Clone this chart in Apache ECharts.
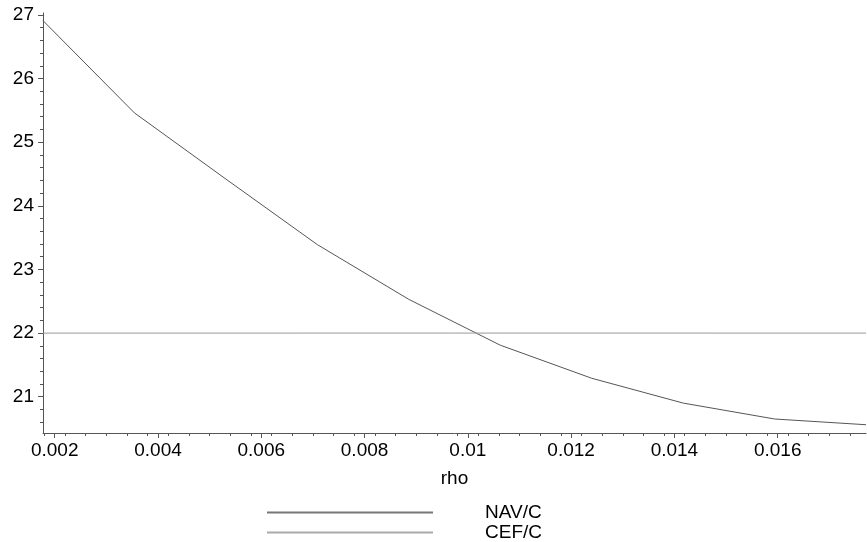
<!DOCTYPE html>
<html><head><meta charset="utf-8">
<script src="https://cdn.jsdelivr.net/npm/echarts@6/dist/echarts.min.js"></script>
<style>html,body{margin:0;padding:0;background:#fff}#c{width:867px;height:542px}</style>
</head><body><div id="c"></div>
<script>
const rho = [0.001773, 0.003544, 0.005315, 0.007086, 0.008857, 0.010628, 0.012399, 0.014170, 0.015941, 0.017710];
const navC = [26.91, 25.46, 24.42, 23.39, 22.53, 21.81, 21.29, 20.90, 20.65, 20.56];
const cefRho = [0.001773, 0.017710];
const cefC = [22, 22];
const xTickValues = [0.002, 0.004, 0.006, 0.008, 0.010, 0.012, 0.014, 0.016];
const xTickLabels = ['0.002', '0.004', '0.006', '0.008', '0.01', '0.012', '0.014', '0.016'];
const yTickValues = [21, 22, 23, 24, 25, 26, 27];
const yTickLabels = ['21', '22', '23', '24', '25', '26', '27'];
const xMin = 0.001773, xMax = 0.01771, yMin = 20.43, yMax = 27.03;

const xMinor = [];
for (let v = 0.0018; v < xMax; v += 0.0004) { const r = Math.round(v * 1e5) / 1e5; if (!xTickValues.some(t => Math.abs(t - r) < 1e-7)) xMinor.push(r); }
const yMinor = [];
for (let v = 20.6; v < yMax; v += 0.2) { const r = Math.round(v * 10) / 10; if (!yTickValues.some(t => Math.abs(t - r) < 1e-6)) yMinor.push(r); }

const font = 'Liberation Sans';
const axisColor = '#555';
const chart = echarts.init(document.getElementById('c'));
chart.setOption({
  animation: false,
  grid: { left: 43, right: 1, top: 13, bottom: 109, containLabel: false },
  xAxis: [
    { type: 'value', min: xMin, max: xMax, position: 'bottom',
      name: 'rho', nameLocation: 'middle', nameGap: 36,
      nameTextStyle: { fontFamily: font, fontSize: 19, color: '#000' },
      axisLine: { show: true, lineStyle: { color: axisColor, width: 1 } },
      axisTick: { show: true, length: 5, customValues: xTickValues, lineStyle: { color: axisColor } },
      axisLabel: { show: true, customValues: xTickValues, margin: 8, fontFamily: font, fontSize: 19, color: '#000',
        formatter: v => { const i = xTickValues.findIndex(t => Math.abs(t - v) < 1e-7); return i >= 0 ? xTickLabels[i] : ''; } },
      splitLine: { show: false } },
    { type: 'value', min: xMin, max: xMax, position: 'bottom',
      axisLine: { show: false },
      axisTick: { show: true, length: 3, customValues: xMinor, lineStyle: { color: axisColor } },
      axisLabel: { show: false }, splitLine: { show: false } }
  ],
  yAxis: [
    { type: 'value', min: yMin, max: yMax, position: 'left',
      axisLine: { show: true, lineStyle: { color: axisColor, width: 1 } },
      axisTick: { show: true, length: 5, customValues: yTickValues, lineStyle: { color: axisColor } },
      axisLabel: { show: true, customValues: yTickValues, margin: 9, fontFamily: font, fontSize: 19, color: '#000',
        formatter: v => { const i = yTickValues.findIndex(t => Math.abs(t - v) < 1e-6); return i >= 0 ? yTickLabels[i] : ''; } },
      splitLine: { show: false } },
    { type: 'value', min: yMin, max: yMax, position: 'left',
      axisLine: { show: false },
      axisTick: { show: true, length: 3, customValues: yMinor, lineStyle: { color: axisColor } },
      axisLabel: { show: false }, splitLine: { show: false } }
  ],
  legend: {
    orient: 'vertical', left: 267, top: 503, height: 40, padding: 0, itemGap: 1,
    itemWidth: 166, itemHeight: 2, icon: 'rect',
    textStyle: { fontFamily: font, fontSize: 19, color: '#000', padding: [0, 0, 0, 47], lineHeight: 19 },
    data: ['NAV/C', 'CEF/C']
  },
  series: [
    { name: 'NAV/C', type: 'line', xAxisIndex: 0, yAxisIndex: 0, showSymbol: false, symbol: 'none',
      data: rho.map((x, i) => [x, navC[i]]), lineStyle: { color: '#555', width: 1 }, itemStyle: { color: '#777' } },
    { name: 'CEF/C', type: 'line', xAxisIndex: 0, yAxisIndex: 0, showSymbol: false, symbol: 'none',
      data: cefRho.map((x, i) => [x, cefC[i]]), lineStyle: { color: '#999', width: 1 }, itemStyle: { color: '#aaa' } }
  ]
});
</script></body></html>
